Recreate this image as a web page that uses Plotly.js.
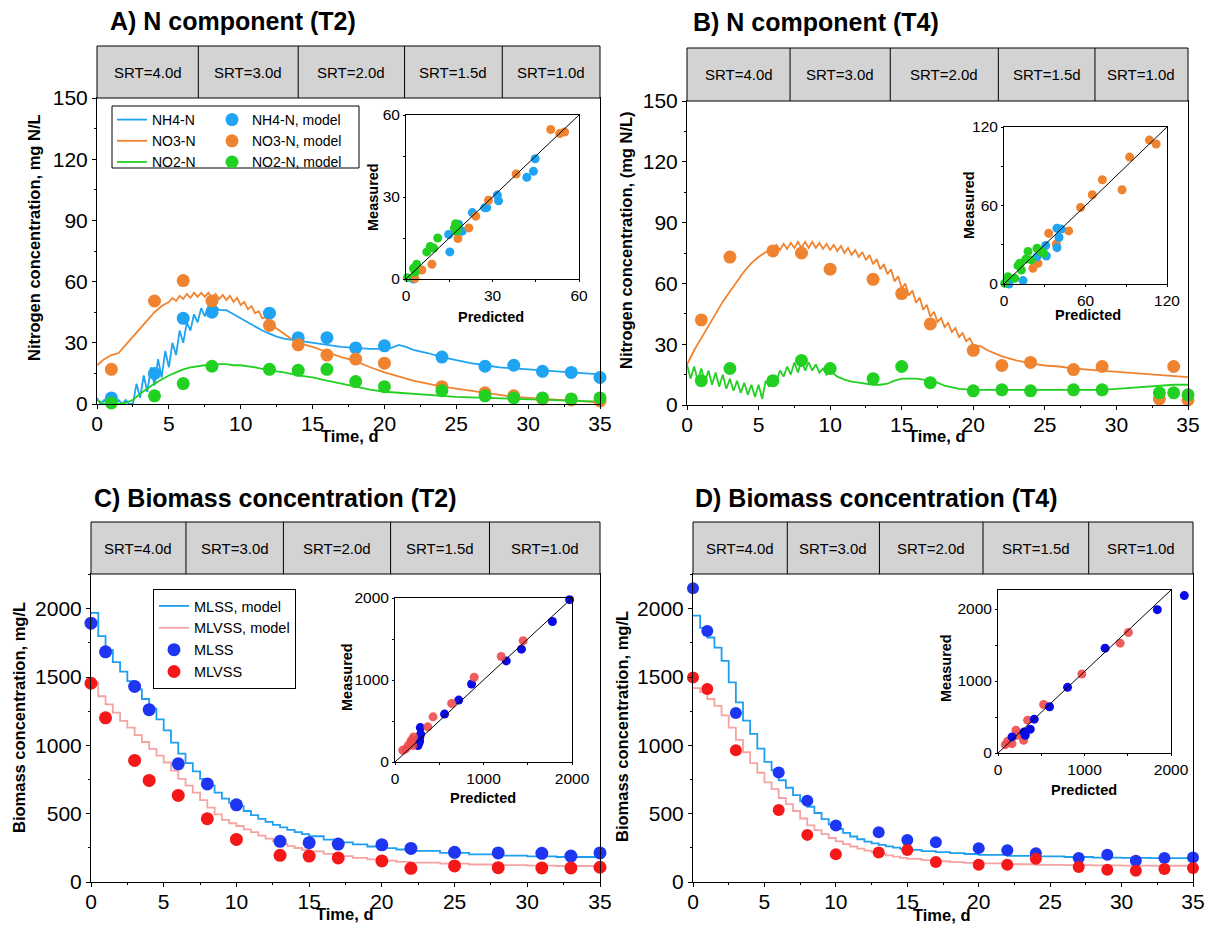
<!DOCTYPE html>
<html><head><meta charset="utf-8">
<script src="https://cdn.plot.ly/plotly-3.0.1.min.js"></script>
<style>html,body{margin:0;padding:0;background:#fff}</style>
</head><body><div id="chart" style="width:1212px;height:945px"></div>
<script>
// ---------------- DATA ----------------
// Panel A (T2) measured
const tA = [1,4,6,8,12,14,16,18,20,24,27,29,31,33,35];
const nh4A = [3,15,42,45,44.5,32.5,32.5,27.5,28.5,23,18.5,19,16,15.5,13];
const no3A = [17,50.5,60.5,50.5,38.5,29,24,22,20,8.5,5.5,4,2.5,2,1.5];
const no2A = [0.5,4,10,18.5,17,16.5,17,11,8.5,6.5,4,3,3,2.5,3];
// Panel A model [t, value]
const nh4ModelA = [[0,3],[0.25,0],[0.5,2],[0.75,0],[1,2],[1.25,0],[1.5,2],[1.75,0],[2,2],[2.25,0],[2.5,0],
 [2.75,10],[3,3],[3.25,14],[3.5,6],[3.75,18],[4,9],[4.25,22],[4.5,13],[4.75,26],[5,18],[5.25,30],[5.5,24],[5.75,36],
 [6,30],[6.25,40],[6.5,36],[6.75,44],[7,40],[7.25,47],[7.5,43],[7.75,48],[8,45],[8.25,48],[8.5,46],
 [9,46],[9.5,44],[10,42],[10.5,40],[11,38],[11.5,36],[12,34.5],[12.5,33],[13,32],[13.5,31.5],[14,31],
 [15,30],[16,29],[17,28],[18,27.5],[19,27],[20,27],[20.5,27.5],[21,29],[21.5,28],
 [22,26.5],[23,25],[24,23],[25,21.5],[26,20],[27,19],[28,18],[29,17.5],[30,17],[31,16.5],[32,16],[33,15.5],[34,15],[35,14.5]];
const no3ModelA = [[0,19],[0.5,22],[1,24],[1.5,25],[2,29],[2.5,33],[3,37],[3.5,41],[4,45],[4.5,48],[5,50],[5.25,52],[5.5,50.5],[5.75,53],[6,51.5],[6.25,54],[6.5,52],[6.75,54.5],[7,52.5],[7.25,54.5],[7.5,52.5],[7.75,54.5],[8,52],[8.25,54],[8.5,51.5],[8.75,53.5],[9,51],[9.25,53],[9.5,50],[9.75,52],[10,48.5],[10.25,50],[10.5,46.5],[10.75,48],[11,44.5],[11.25,45.5],[11.5,42],[11.75,42.5],[12,39],[12.5,37],[13,34.5],[13.5,32],[14,30],[15,28],[16,25.5],[17,23],[18,21],[19,18],[20,15.5],[21,13.5],[22,11.5],[23,10],[24,8.5],[25,7.5],[26,6.5],[27,5.5],[28,4.5],[29,3.5],[30,3],[31,2.5],[32,2],[33,1.5],[34,1],[35,0.8]];
const no2ModelA = [[0,2],[0.5,0],[1,0],[1.5,0],[2,0.5],[2.5,2],[3,5],[3.5,7.5],[4,10],[4.5,12],[5,14],[5.5,15.5],[6,17],[6.5,18],[7,18.5],[7.5,19],[8,19],[8.5,19.5],[9,19.5],[9.5,19],[10,19],[11,18],[12,16.5],[13,15.5],[14,14],[15,13],[16,11.5],[17,10],[18,8.5],[19,7],[20,6],[21,5.5],[22,5],[23,4.5],[24,4],[25,3.5],[27,3],[29,2.5],[31,2],[33,1.5],[35,1.2]];

// Panel B (T4) measured
const tB = [1,3,6,8,10,13,15,17,20,22,24,27,29,33,34,35];
const no3B = [42,73,76,75,67,62,55,40,27,19.5,21,17.5,19,3,19,2.5];
const no2B = [12,18,12,22,18,13,19,11,7,7.5,7,7.5,7.5,6,6,5];
const no3ModelB = [[0,20],[0.5,27],[1,33],[1.5,39],[2,45],[2.5,51],[3,56],[3.5,61],[4,66],[4.5,70],[5,73],[5.5,75.5],
 [6,77],[6.25,79],[6.5,76.5],[6.75,79.5],[7,77],[7.25,80],[7.5,77.5],[7.75,80.5],[8,77.5],[8.25,80.5],[8.5,77.5],[8.75,80.5],[9,77.5],[9.25,80],[9.5,77],[9.75,79.5],[10,76.5],[10.25,79],[10.5,76],[10.75,78.5],[11,75],[11.25,77.5],[11.5,74],[11.75,76.5],[12,73],[12.25,75.5],[12.5,71.5],[12.75,74],[13,69.5],[13.25,72],[13.5,67],[13.75,69.5],[14,64.5],[14.25,67],[14.5,61],[14.75,63.5],[15,57.5],[15.25,60],[15.5,54],[15.75,56.5],[16,50.5],[16.25,53],[16.5,47],[16.75,49.5],[17,43.5],[17.25,46],[17.5,41],[17.75,43],[18,38.5],[18.25,40.5],[18.5,36],[18.75,38],[19,33.5],[19.25,35.5],[19.5,31.5],[19.75,33],[20,29.5],[20.5,29],[21,27],
 [22,24],[23,22],[24,20.5],[25,19.5],[26,19],[27,18],[28,17.5],[29,17],[30,16.5],[31,16],[32,15.4],[33,15],[34,14.3],[35,13.8]];
const no2ModelB = [[0,20],[0.25,13],[0.5,19],[0.75,12],[1,18],[1.25,11],[1.5,17],[1.75,10],[2,16],[2.25,9],[2.5,15],[2.75,8],[3,13],[3.25,7],[3.5,12],[3.75,6],[4,11],[4.25,5],[4.5,10],[4.75,4],[5,10],[5.25,3],[5.5,12],[5.75,9],[6,14],[6.25,12],[6.5,17],[6.75,14],[7,19],[7.25,15],[7.5,21],[7.75,16],[8,22],[8.25,17],[8.5,21],[8.75,17],[9,20],[9.25,16],[9.5,18],[9.75,15],[10,17],[10.5,14],[11,12.5],[11.5,11.5],[12,11],[12.5,10.5],[13,10],[13.5,10],[14,10.5],[14.5,12],[15,13],[16,13],[16.5,12.5],[17,12],[17.5,11],[18,9.5],[19,8],[20,7.5],[22,7.5],[24,7.5],[26,7.5],[28,7.5],[29,7.5],[30,8],[32,9],[34,10],[35,10]];

// Panel C (T2) biomass
const tC = [0,1,3,4,6,8,10,13,15,17,20,22,25,28,31,33,35];
const mlssC = [1895,1685,1432,1262,865,718,565,298,288,278,272,246,217,213,210,190,213];
const mlvssC = [1455,1202,890,744,634,463,312,195,190,176,154,100,118,105,103,103,108];
const mlssModelC = [[0,1970],[0.5,1800],[1,1700],[1.5,1610],[2,1540],[2.5,1470],[3,1410],[3.5,1340],[4,1270],[4.5,1190],[5,1110],[5.5,1020],[6,940],[6.5,870],[7,810],[7.5,755],[8,705],[8.5,655],[9,610],[9.5,580],[10,555],[10.5,520],[11,490],[11.5,462],[12,440],[12.5,418],[13,400],[13.5,382],[14,365],[14.5,350],[15,335],[16,310],[17,290],[18,275],[19,260],[20,248],[21,238],[22,228],[24,213],[26,202],[28,193],[30,187],[32,183],[35,180]];
const mlvssModelC = [[0,1460],[0.5,1360],[1,1300],[1.5,1240],[2,1180],[2.5,1130],[3,1075],[3.5,1025],[4,975],[4.5,925],[5,875],[5.5,815],[6,755],[6.5,705],[7,655],[7.5,600],[8,545],[8.5,495],[9,455],[9.5,430],[10,410],[10.5,385],[11,365],[11.5,340],[12,318],[12.5,298],[13,280],[13.5,263],[14,249],[14.5,236],[15,224],[16,206],[17,190],[18,177],[19,165],[20,156],[21,148],[22,142],[24,135],[26,128],[28,123],[30,120],[32,117],[35,115]];

// Panel D (T4) biomass
const tD = [0,1,3,6,8,10,13,15,17,20,22,24,27,29,31,33,35];
const mlssD = [2150,1837,1238,801,595,413,364,308,291,248,233,211,175,199,155,175,180];
const mlvssD = [1498,1413,964,527,345,204,216,235,146,126,126,170,109,90,83,95,102];
const mlssModelD = [[0,1950],[0.5,1860],[1,1790],[1.5,1716],[2,1619],[2.5,1461],[3,1315],[3.5,1182],[4,1085],[4.5,976],[5,879],[5.5,818],[6,745],[6.5,690],[7,636],[7.5,590],[8,551],[8.5,505],[9,461],[9.5,422],[10,388],[10.5,360],[11,333],[11.5,313],[12,296],[12.5,283],[13,272],[13.5,261],[14,252],[14.5,243],[15,235],[16,226],[17,218],[18,211],[19,205],[20,199],[22,192],[24,187],[26,183],[28,179],[30,176],[32,175],[35,175]];
const mlvssModelD = [[0,1420],[0.5,1390],[1,1340],[1.5,1290],[2,1220],[2.5,1130],[3,1040],[3.5,950],[4,870],[4.5,800],[5,730],[5.5,680],[6,615],[6.5,570],[7,520],[7.5,465],[8,415],[8.5,380],[9,350],[9.5,322],[10,298],[10.5,278],[11,260],[11.5,244],[12,230],[12.5,217],[13,205],[13.5,195],[14,186],[14.5,177],[15,170],[16,160],[17,152],[18,146],[19,140],[20,136],[22,130],[24,126],[26,123],[28,121],[30,120],[32,119],[35,118]];

// Insets: [predicted, measured]
const insetA_nh4 = [[44.8,44],[44.2,39.4],[41.9,37.2],[31.7,30.7],[32.1,28.6],[28,26.1],[27.3,26.1],[23,24.3],[19.5,17.5],[18.3,20],[14.8,16.3],[15.2,9.9],[2.6,0]];
const insetA_no3 = [[50.2,54.7],[53.3,53.2],[55,53.8],[38.2,38.4],[28.6,28.8],[24.2,23],[21.8,18.7],[18,14.8],[9,5.4],[5.5,3.3],[3.1,0.2]];
const insetA_no2 = [[0.5,0.5],[2.6,3.9],[3.7,5.4],[7.2,9.9],[8.4,11.9],[9.6,11.3],[11,15],[16.8,18.7],[17.2,20.2],[18,19],[17.5,17.5],[3.2,2.5]];
const insetB_no3 = [[107,110],[112,107],[92.5,97],[72.4,79.7],[86.9,72],[65,68.2],[56.4,58.5],[47.6,40.6],[32.9,38.8],[38.5,30.6],[25,15.8],[21.3,12]];
const insetB_nh4 = [[39,42.6],[40.5,35.5],[39,27.8],[30.7,29.4],[31.2,21.4],[24.3,20.9],[14,2.6],[3.7,0],[42,42]];
const insetB_no2 = [[17.7,24.8],[24.3,27.3],[29.2,23.5],[10.3,14],[12.8,10.7],[7.9,4.3],[2.9,5.6],[0.5,0.5],[20,18.4],[11.5,15.8],[16,19],[27,25]];
const insetC_mlss = [[1973,1980],[1779,1714],[1429,1376],[1257,1233],[865,951],[720,755],[560,584],[286,420],[290,340],[278,257],[270,230],[260,200],[280,300]];
const insetC_mlvss = [[1448,1478],[1200,1286],[895,1033],[640,714],[430,551],[370,429],[210,306],[190,270],[180,250],[152,204],[120,160],[88,143],[200,200]];
const insetD_mlss = [[2154,2186],[1842,1991],[1238,1456],[804,912],[596,642],[419,470],[373,330],[315,247],[162,223],[300,290]];
const insetD_mlvss = [[1508,1674],[1412,1526],[969,1098],[527,674],[342,456],[208,316],[296,177],[162,130],[85,116],[112,163],[219,247]];

// SRT periods
const srtLabels = ['SRT=4.0d','SRT=3.0d','SRT=2.0d','SRT=1.5d','SRT=1.0d'];
const srtBoundsA = [7.05,14.0,21.4,28.2];
const srtBoundsB = [7.2,14.2,21.75,28.5];
const srtBoundsC = [6.53,13.23,20.6,27.4];
const srtBoundsD = [6.6,13.05,20.3,27.7];

// ---------------- STYLE ----------------
const W = 1212, H = 945;
const FONT = 'Liberation Sans, Arial, sans-serif';
const px = x => x / W;
const py = y => 1 - y / H;
const C_NH4 = '#1EA4F2', C_NO3 = '#F0832F', C_NO2 = '#22D022';
const C_MLSS_LINE = '#1E9FF0', C_MLVSS_LINE = '#F5A3A3';
const C_MLSS = '#1E36F2', C_MLVSS = '#F51818';
const C_IN_BLUE = '#0A0AE6', C_IN_RED = '#EE4B4B';

const xs = arr => arr.map(p => p[0]);
const ys = arr => arr.map(p => p[1]);

function lineTrace(pairs, color, name, xa, ya, legend, shape) {
  return {type:'scatter', mode:'lines', x: xs(pairs), y: ys(pairs), xaxis: xa, yaxis: ya,
    line: {color: color, width: 1.8, shape: shape || 'linear'}, name: name,
    showlegend: !!legend, legend: legend || 'legend', hoverinfo:'skip'};
}
function markerTrace(t, v, color, name, xa, ya, legend, size) {
  return {type:'scatter', mode:'markers', x: t, y: v, xaxis: xa, yaxis: ya,
    marker: {color: color, size: size || 13}, name: name, cliponaxis: false,
    showlegend: !!legend, legend: legend || 'legend', hoverinfo:'skip'};
}
function insetTrace(pairs, color, xa, ya, opacity) {
  return {type:'scatter', mode:'markers', x: xs(pairs), y: ys(pairs), xaxis: xa, yaxis: ya,
    marker: {color: color, size: 9, opacity: opacity || 1}, cliponaxis: false, showlegend: false, hoverinfo:'skip'};
}

const traces = [
  // A
  lineTrace(nh4ModelA, C_NH4, 'NH4-N', 'x', 'y', 'legend'),
  lineTrace(no3ModelA, C_NO3, 'NO3-N', 'x', 'y', 'legend'),
  lineTrace(no2ModelA, C_NO2, 'NO2-N', 'x', 'y', 'legend'),
  markerTrace(tA, nh4A, C_NH4, 'NH4-N, model', 'x', 'y', 'legend2'),
  markerTrace(tA, no3A, C_NO3, 'NO3-N, model', 'x', 'y', 'legend2'),
  markerTrace(tA, no2A, C_NO2, 'NO2-N, model', 'x', 'y', 'legend2'),
  // B
  lineTrace(no3ModelB, C_NO3, 'NO3-N', 'x2', 'y2'),
  lineTrace(no2ModelB, C_NO2, 'NO2-N', 'x2', 'y2'),
  markerTrace(tB, no3B, C_NO3, 'NO3-N', 'x2', 'y2'),
  markerTrace(tB, no2B, C_NO2, 'NO2-N', 'x2', 'y2'),
  // C
  lineTrace(mlssModelC, C_MLSS_LINE, 'MLSS, model', 'x3', 'y3', 'legend3', 'hv'),
  lineTrace(mlvssModelC, C_MLVSS_LINE, 'MLVSS, model', 'x3', 'y3', 'legend3', 'hv'),
  markerTrace(tC, mlssC, C_MLSS, 'MLSS', 'x3', 'y3', 'legend3'),
  markerTrace(tC, mlvssC, C_MLVSS, 'MLVSS', 'x3', 'y3', 'legend3'),
  // D
  lineTrace(mlssModelD, C_MLSS_LINE, 'MLSS, model', 'x4', 'y4', null, 'hv'),
  lineTrace(mlvssModelD, C_MLVSS_LINE, 'MLVSS, model', 'x4', 'y4', null, 'hv'),
  markerTrace(tD, mlssD, C_MLSS, 'MLSS', 'x4', 'y4', null, 12),
  markerTrace(tD, mlvssD, C_MLVSS, 'MLVSS', 'x4', 'y4', null, 12),
  // insets
  insetTrace(insetA_nh4, C_NH4, 'x5', 'y5'),
  insetTrace(insetA_no3, C_NO3, 'x5', 'y5'),
  insetTrace(insetA_no2, C_NO2, 'x5', 'y5'),
  insetTrace(insetB_no3, C_NO3, 'x6', 'y6'),
  insetTrace(insetB_nh4, C_NH4, 'x6', 'y6'),
  insetTrace(insetB_no2, C_NO2, 'x6', 'y6'),
  insetTrace(insetC_mlss, C_IN_BLUE, 'x7', 'y7'),
  insetTrace(insetC_mlvss, C_IN_RED, 'x7', 'y7', 0.9),
  insetTrace(insetD_mlvss, C_IN_RED, 'x8', 'y8', 0.9),
  // MLSS of inset D drawn on x9/y9: identical scale to x8/y8, wider x domain so the point beyond 2000 stays visible
  insetTrace(insetD_mlss, C_IN_BLUE, 'x9', 'y9')
];

function mainAxis(dom, range, dtick, minor, anchor, isX) {
  const a = {domain: dom, range: range, dtick: dtick, tick0: 0, ticks: 'outside', ticklen: 4, tickwidth: 1,
    tickcolor: '#000', showline: true, linecolor: '#000', linewidth: 1, mirror: true, showgrid: false,
    zeroline: false, tickfont: {family: FONT, size: 21, color: '#000'}, anchor: anchor, fixedrange: true,
    minor: {dtick: minor, tick0: 0, ticks: 'outside', ticklen: 2, tickcolor: '#000', showgrid: false}};
  if (isX) a.ticklabelstandoff = -3;
  return a;
}
function insetAxis(dom, range, dtick, anchor) {
  return {domain: dom, range: range, dtick: dtick, tick0: 0, ticks: 'outside', ticklen: 2, tickwidth: 1,
    tickcolor: '#000', showline: true, linecolor: '#000', linewidth: 1, mirror: true, showgrid: false,
    zeroline: false, tickfont: {family: FONT, size: 15.5, color: '#000'}, anchor: anchor, fixedrange: true,
    minor: {dtick: dtick / 2, tick0: 0, ticks: 'outside', ticklen: 2, tickcolor: '#000', showgrid: false}};
}

const dA = {x: [px(97), px(600)], y: [py(404), py(98)]};
const dB = {x: [px(687), px(1188)], y: [py(405), py(101)]};
const dC = {x: [px(91), px(600)], y: [py(882), py(574)]};
const dD = {x: [px(693), px(1193)], y: [py(882), py(574)]};
const iA = {x: [px(406), px(579)], y: [py(279), py(115)]};
const iB = {x: [px(1004), px(1167)], y: [py(284), py(127)]};
const iC = {x: [px(395), px(572)], y: [py(762), py(598)]};
const iD = {x: [px(998), px(1171)], y: [py(753), py(590)]};
const iDwide = [px(998), px(998 + 173 * 1.1)];

const shapes = [], annotations = [];
function srt(xa, ya, bounds, hpx, ydom) {
  const h = hpx / ((ydom[1] - ydom[0]) * H);
  shapes.push({type: 'rect', xref: xa + ' domain', yref: ya + ' domain', x0: 0, x1: 1, y0: 1, y1: 1 + h,
    fillcolor: '#D3D3D3', line: {color: '#000', width: 1}, layer: 'above'});
  bounds.forEach(b => shapes.push({type: 'line', xref: xa, yref: ya + ' domain', x0: b, x1: b, y0: 1, y1: 1 + h,
    line: {color: '#000', width: 1}}));
  const edges = [0].concat(bounds, [35]);
  srtLabels.forEach((lab, i) => annotations.push({text: lab, xref: xa, yref: ya + ' domain',
    x: (edges[i] + edges[i + 1]) / 2, y: 1 + h / 2, showarrow: false, xanchor: 'center', yanchor: 'middle',
    font: {family: FONT, size: 15, color: '#000'}}));
}
srt('x', 'y', srtBoundsA, 52, dA.y);
srt('x2', 'y2', srtBoundsB, 53, dB.y);
srt('x3', 'y3', srtBoundsC, 52, dC.y);
srt('x4', 'y4', srtBoundsD, 52, dD.y);

// diagonal lines in insets
[['x5','y5'],['x6','y6'],['x7','y7'],['x8','y8']].forEach(([xa, ya]) => shapes.push({type: 'line',
  xref: xa + ' domain', yref: ya + ' domain', x0: 0, y0: 0, x1: 1, y1: 1, line: {color: '#000', width: 1}}));

// legend frame for panel A (two-column legend)
shapes.push({type: 'rect', xref: 'paper', yref: 'paper', x0: px(112), x1: px(359), y0: py(168), y1: py(106),
  line: {color: '#000', width: 1}, fillcolor: 'rgba(0,0,0,0)'});

function txt(text, x, y, size, opts) {
  annotations.push(Object.assign({text: text, xref: 'paper', yref: 'paper', x: px(x), y: py(y), showarrow: false,
    xanchor: 'center', yanchor: 'middle', font: {family: FONT, size: size, color: '#000'}}, opts || {}));
}
// panel titles
txt('<b>A) N component (T2)</b>', 108, 21, 25, {xanchor: 'left'});
txt('<b>B) N component (T4)</b>', 691, 22, 25, {xanchor: 'left'});
txt('<b>C) Biomass concentration (T2)</b>', 92, 498, 25, {xanchor: 'left'});
txt('<b>D) Biomass concentration (T4)</b>', 693, 498, 25, {xanchor: 'left'});
// axis titles
txt('<b>Nitrogen concentration, mg N/L</b>', 34, 238, 16.5, {textangle: -90});
txt('<b>Nitrogen concentration, (mg N/L)</b>', 626, 240, 16.5, {textangle: -90});
txt('<b>Biomass concentration, mg/L</b>', 19, 718, 16.5, {textangle: -90});
txt('<b>Biomass concentration, mg/L</b>', 622, 727, 16.5, {textangle: -90});
txt('<b>Time, d</b>', 349, 436, 16.5);
txt('<b>Time, d</b>', 936, 436, 16.5);
txt('<b>Time, d</b>', 345, 914, 16.5);
txt('<b>Time, d</b>', 941, 915, 16.5);
// inset titles
txt('<b>Measured</b>', 373, 197, 14.5, {textangle: -90});
txt('<b>Predicted</b>', 491, 317, 14.5);
txt('<b>Measured</b>', 969, 205, 14.5, {textangle: -90});
txt('<b>Predicted</b>', 1088, 315, 14.5);
txt('<b>Measured</b>', 347, 677, 14.5, {textangle: -90});
txt('<b>Predicted</b>', 483, 798, 14.5);
txt('<b>Measured</b>', 946, 668, 14.5, {textangle: -90});
txt('<b>Predicted</b>', 1084, 790, 14.5);

const legendBase = {xanchor: 'left', yanchor: 'top', bgcolor: 'rgba(0,0,0,0)', borderwidth: 0,
  font: {family: FONT, size: 14, color: '#000'}, tracegroupgap: 0, traceorder: 'normal', orientation: 'v'};

const layout = {
  width: W, height: H, autosize: false, margin: {l: 0, r: 0, t: 0, b: 0},
  paper_bgcolor: '#fff', plot_bgcolor: 'rgba(0,0,0,0)', font: {family: FONT, color: '#000'},
  showlegend: true,
  legend: Object.assign({}, legendBase, {x: px(112), y: py(104)}),
  legend2: Object.assign({}, legendBase, {x: px(212), y: py(104)}),
  legend3: Object.assign({}, legendBase, {x: px(153), y: py(589), bgcolor: '#fff', bordercolor: '#000', borderwidth: 1, font: {family: FONT, size: 14.5, color: '#000'}}),
  xaxis: mainAxis(dA.x, [0, 35], 5, 2.5, 'y', true),
  yaxis: mainAxis(dA.y, [0, 150], 30, 15, 'x'),
  xaxis2: mainAxis(dB.x, [0, 35], 5, 2.5, 'y2', true),
  yaxis2: mainAxis(dB.y, [0, 150], 30, 15, 'x2'),
  xaxis3: mainAxis(dC.x, [0, 35], 5, 2.5, 'y3', true),
  yaxis3: mainAxis(dC.y, [0, 2255], 500, 250, 'x3'),
  xaxis4: mainAxis(dD.x, [0, 35], 5, 2.5, 'y4', true),
  yaxis4: mainAxis(dD.y, [0, 2255], 500, 250, 'x4'),
  xaxis5: insetAxis(iA.x, [0, 60], 30, 'y5'),
  yaxis5: insetAxis(iA.y, [0, 60], 30, 'x5'),
  xaxis6: insetAxis(iB.x, [0, 120], 60, 'y6'),
  yaxis6: insetAxis(iB.y, [0, 120], 60, 'x6'),
  xaxis7: insetAxis(iC.x, [0, 2000], 1000, 'y7'),
  yaxis7: insetAxis(iC.y, [0, 2000], 1000, 'x7'),
  xaxis8: insetAxis(iD.x, [0, 2000], 1000, 'y8'),
  yaxis8: insetAxis(iD.y, [0, 2264], 1000, 'x8'),
  xaxis9: {domain: iDwide, range: [0, 2200], anchor: 'y9', visible: false, showgrid: false, zeroline: false, fixedrange: true},
  yaxis9: {domain: iD.y, range: [0, 2264], anchor: 'x9', visible: false, showgrid: false, zeroline: false, fixedrange: true},
  shapes: shapes,
  annotations: annotations
};

Plotly.newPlot('chart', traces, layout, {displayModeBar: false, staticPlot: true});
</script></body></html>
